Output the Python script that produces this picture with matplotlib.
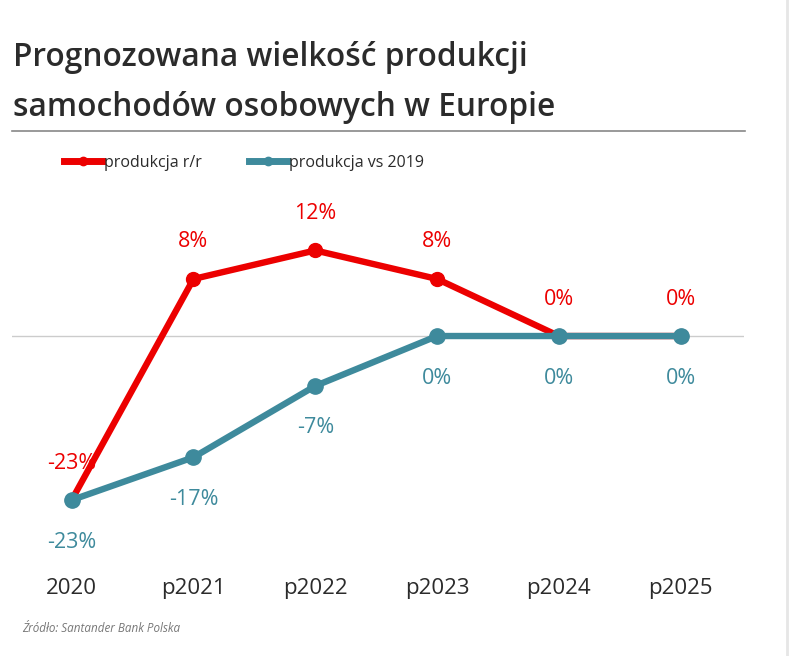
import matplotlib.pyplot as plt
from matplotlib.lines import Line2D

plt.rcParams['font.family'] = ['Open Sans', 'DejaVu Sans']

years = ['2020', 'p2021', 'p2022', 'p2023', 'p2024', 'p2025']
prod_rr = [-23, 8, 12, 8, 0, 0]
prod_vs2019 = [-23, -17, -7, 0, 0, 0]
rr_labels = ['-23%', '8%', '12%', '8%', '0%', '0%']
vs_labels = ['-23%', '-17%', '-7%', '0%', '0%', '0%']

red = '#EC0000'
teal = '#3E8A9C'
dark = '#2b2b2b'

fig = plt.figure(figsize=(7.92, 6.56), dpi=100)
ax = fig.add_axes([12 / 792, 1 - 560 / 656, 732 / 792, 360 / 656])

x = list(range(len(years)))
ax.axhline(0, color='#cccccc', lw=1, zorder=1)
ax.plot(x, prod_rr, color=red, lw=4.6, marker='o', ms=10, zorder=2)
ax.plot(x, prod_vs2019, color=teal, lw=4.6, marker='o', ms=11, zorder=3)

for i, lab in enumerate(rr_labels):
    ax.annotate(lab, (x[i], prod_rr[i]), xytext=(0, 37), textcoords='offset pixels',
                ha='center', va='center', color=red, fontsize=15.5)
for i, lab in enumerate(vs_labels):
    ax.annotate(lab, (x[i], prod_vs2019[i]), xytext=(0, -42), textcoords='offset pixels',
                ha='center', va='center', color=teal, fontsize=15.5)

ax.set_xlim(-0.49, 5.52)
ax.set_ylim(-31.4, 19.07)
ax.set_xticks(x)
ax.set_xticklabels(years, fontsize=16, color=dark)
ax.tick_params(axis='x', length=0, pad=13)
ax.set_yticks([])
for s in ax.spines.values():
    s.set_visible(False)

# title and rule
fig.text(13 / 792, 1 - 57 / 656, 'Prognozowana wielkość produkcji', fontsize=22.8,
         fontweight='semibold', color=dark, va='center', ha='left')
fig.text(13 / 792, 1 - 107 / 656, 'samochodów osobowych w Europie', fontsize=22.8,
         fontweight='semibold', color=dark, va='center', ha='left')
fig.add_artist(Line2D([12 / 792, 745 / 792], [1 - 131 / 656, 1 - 131 / 656],
                      color='#888888', lw=1.2))
fig.add_artist(Line2D([787 / 792, 787 / 792], [0, 1], color='#e6e6e6', lw=2))

# legend
handles = [Line2D([], [], color=red, lw=5, marker='o', ms=6),
           Line2D([], [], color=teal, lw=5, marker='o', ms=6)]
fig.legend(handles, ['produkcja r/r', 'produkcja vs 2019'], loc='center',
           bbox_to_anchor=(244 / 792, 1 - 163 / 656), ncol=2, frameon=False,
           fontsize=11.5, handlelength=2.4, handletextpad=0.15, columnspacing=2.9,
           labelcolor=dark)

fig.text(22 / 792, 1 - 628 / 656, 'Źródło: Santander Bank Polska', fontsize=8.4,
         style='italic', color='#777777', va='center', ha='left')

fig.savefig('out.png', dpi=100)
